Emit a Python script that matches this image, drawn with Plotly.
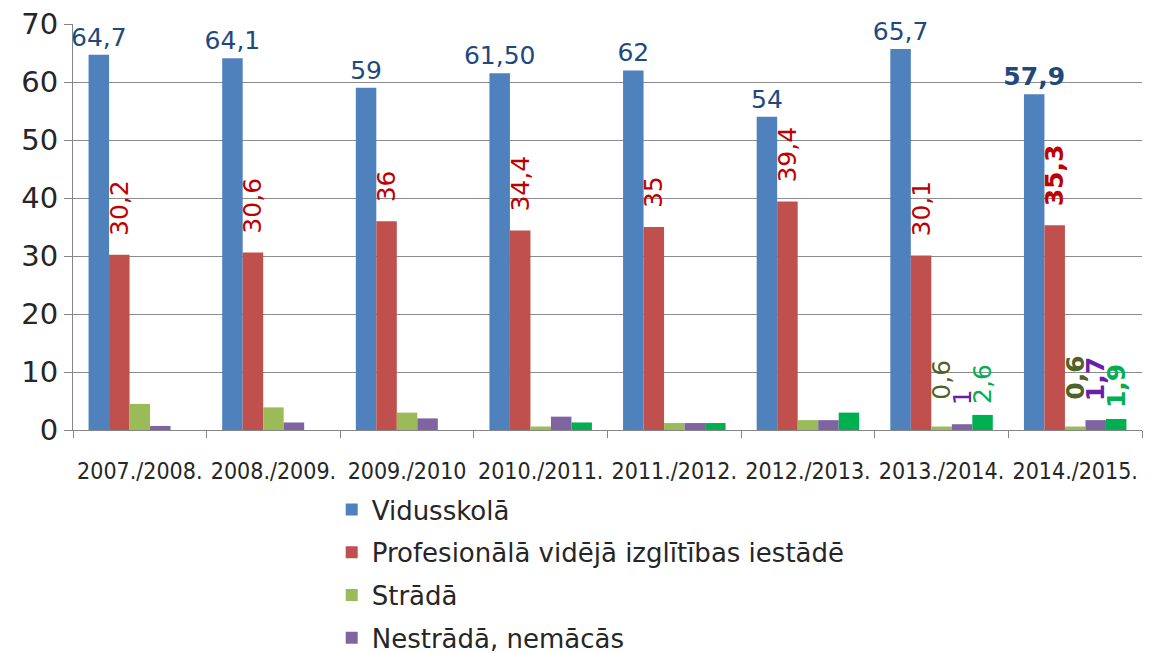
import plotly.graph_objects as go

categories = ["2007./2008.", "2008./2009.", "2009./2010", "2010./2011.",
              "2011./2012.", "2012./2013.", "2013./2014.", "2014./2015."]

vidusskola = [64.7, 64.1, 59, 61.5, 62, 54, 65.7, 57.9]
profesionala = [30.2, 30.6, 36, 34.4, 35, 39.4, 30.1, 35.3]
strada = [4.5, 3.9, 3.0, 0.6, 1.2, 1.7, 0.6, 0.6]
nestrada = [0.7, 1.3, 2.0, 2.3, 1.2, 1.7, 1.0, 1.7]
cits = [0, 0, 0, 1.3, 1.2, 3.0, 2.6, 1.9]

lbl_vid = ["64,7", "64,1", "59", "61,50", "62", "54", "65,7", "<b>57,9</b>"]
lbl_prof = ["30,2", "30,6", "36", "34,4", "35", "39,4", "30,1", "<b>35,3</b>"]
lbl_strada = ["", "", "", "", "", "", "0,6", "<b>0,6</b>"]
lbl_nestr = ["", "", "", "", "", "", "1", "<b>1,7</b>"]
lbl_cits = ["", "", "", "", "", "", "2,6", "<b>1,9</b>"]

series_names = ["Vidusskolā", "Profesionālā vidējā izglītības iestādē",
                "Strādā", "Nestrādā, nemācās", ""]
bar_colors = ["#4F81BD", "#C0504D", "#9BBB59", "#8064A2", "#00B050"]
label_colors = ["#1F497D", "#C00000", "#4F6228", "#6A1FA8", "#00B050"]

FONT = "DejaVu Sans"
NB = "\u00a0"


def pad(labels, n):
    return [(NB * n + t) if t else "" for t in labels]


series = [
    (vidusskola, lbl_vid, 0, 0),
    (profesionala, pad(lbl_prof, 2), -90, 1),
    (strada, pad(lbl_strada, 3), -90, 2),
    (nestrada, pad(lbl_nestr, 2), -90, 3),
    (cits, pad(lbl_cits, 1), -90, 4),
]

fig = go.Figure()
for vals, labels, ang, i in series:
    fig.add_trace(go.Bar(
        x=categories, y=vals, name=series_names[i],
        marker=dict(color=bar_colors[i], line=dict(width=0)),
        text=labels, textposition="outside", textangle=ang,
        constraintext="none", cliponaxis=False,
        textfont=dict(family=FONT, size=25, color=label_colors[i]),
        showlegend=(i < 4), legendgroup=f"g{i}",
        hoverinfo="skip",
    ))

fig.update_layout(
    width=1151, height=653,
    paper_bgcolor="white", plot_bgcolor="white",
    margin=dict(l=73, r=9, t=24, b=223, autoexpand=False),
    barmode="group", bargap=0.233, bargroupgap=0,
    font=dict(family=FONT, color="#262626"),
    legend=dict(
        orientation="v", x=0.242, xanchor="left", y=-0.138, yanchor="top",
        font=dict(family=FONT, size=26, color="#262626"),
        traceorder="grouped", tracegroupgap=6,
        bgcolor="rgba(0,0,0,0)",
    ),
    xaxis=dict(
        type="category", showgrid=False, automargin=False,
        showline=True, linecolor="#868686", linewidth=1,
        ticks="outside", tickson="boundaries", ticklen=7, tickcolor="#868686",
        tickangle=0,
        tickfont=dict(family="DejaVu Sans Condensed, Liberation Sans Narrow, DejaVu Sans",
                      size=23, color="#262626"),
        ticklabelstandoff=20,
    ),
    yaxis=dict(
        range=[0, 70], dtick=10, showgrid=True, gridcolor="#8C8C8C", gridwidth=1,
        showline=True, linecolor="#868686", linewidth=1, automargin=False,
        ticks="outside", ticklen=8, tickcolor="#868686",
        tickfont=dict(family=FONT, size=29, color="#262626"),
        zeroline=False,
    ),
)

fig.write_html("out.html", config={"displayModeBar": False},
               post_script="document.body.style.margin='0px';document.body.style.overflow='hidden';")
